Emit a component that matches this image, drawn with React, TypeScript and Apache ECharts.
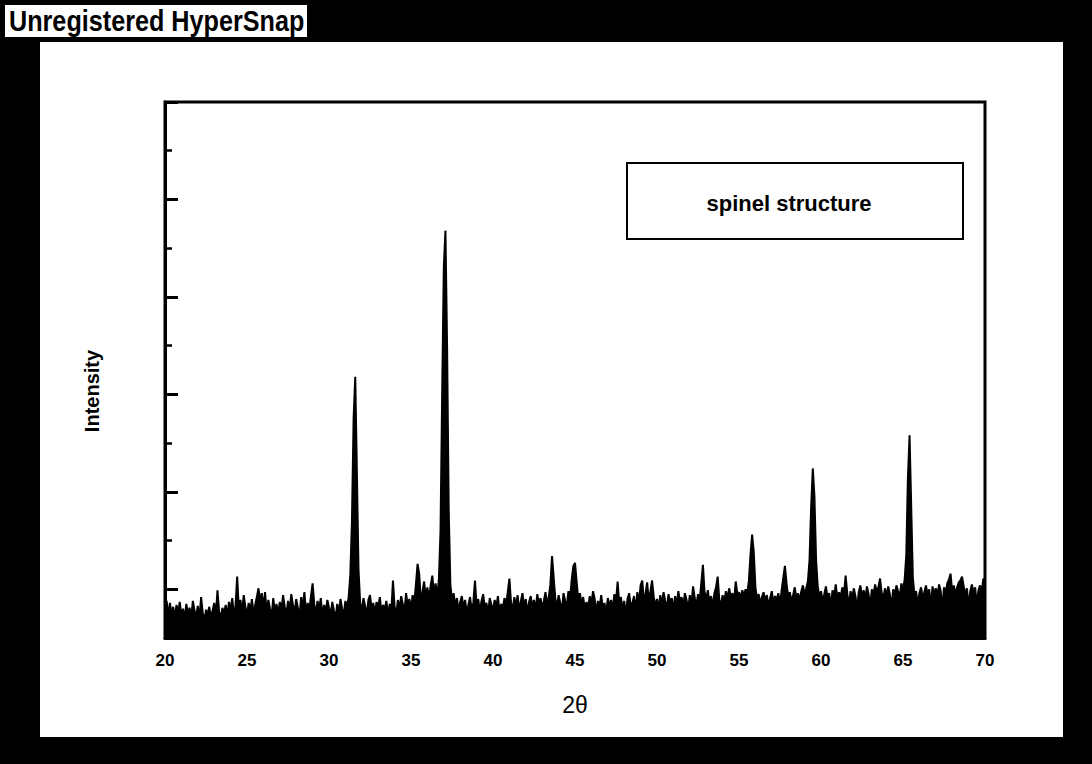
import React, { useEffect, useRef } from "react";
import * as echarts from "echarts";

// 2θ scan: start, step (degrees)
const scanStart = 20.0;
const scanStep = 0.1;

// Intensity, one value per 0.1° from 20.0° to 70.0°
const intensity20 = [
  -22, -12, -28, -14, -26, -18, -30, -16, -24, -13,
  -27, -20, -31, -15, -25, -19, -29, -12, -22, -27,
  -17, -30, -8, -24, -33, -21, -26, -18, -29, -22,
  -14, -27, -1, -23, -30, -19, -25, -16, -28, -13,
  -21, -9, -26, -17, 13, -20, -11, -24, -6, -18,
];
const intensity25 = [
  -27, -14, -22, -10, -25, -16, -8, 1, -12, -4,
  -19, -3, -24, -11, -20, -28, -9, -23, -15, -26,
  -13, -21, -6, -18, -27, -12, -22, -5, -16, -24,
  -10, -19, -29, -8, -17, -3, -25, -14, -21, -7,
  6, -15, -26, -12, -20, -9, -28, -16, -23, -11,
];
const intensity30 = [
  -19, -27, -13, -22, -30, -15, -24, -10, -20, -26,
  -12, -18, -8, 15, 70, 175, 218, 120, 20, -14,
  -22, -9, -17, -27, -11, -6, -20, -14, -25, -13,
  -19, -8, -24, -16, -21, -12, -28, -15, -23, 9,
  -18, -26, -11, -20, -7, -15, -24, -4, -17, -10,
];
const intensity35 = [
  -21, -6, -14, 5, 26, 16, -12, -3, 8, -9,
  2, -11, 4, 14, -5, 6, -8, 10, 60, 200,
  330, 368, 250, 80, 5, -12, -4, -18, -9, -22,
  -13, -7, -19, -11, -25, -16, -8, -21, -14, 9,
  -17, -10, -23, -12, -5, -19, -14, -26, -9, -16,
];
const intensity40 = [
  -22, -11, -18, -7, -24, -15, -20, -9, -16, -3,
  11, -14, -21, -8, -17, -6, -23, -12, -4, -19,
  -10, -25, -13, -7, -18, -11, -22, -5, -15, -9,
  -20, -12, -3, -16, -8, 5, 34, 12, -10, -18,
  -6, -14, -21, -4, -12, -17, -2, -9, 10, 24,
];
const intensity45 = [
  27, 8, -11, -4, -16, -8, -21, -13, -19, -7,
  -15, -2, -10, -24, -12, -18, -6, -20, -14, -26,
  -9, -17, -11, -22, -5, -13, 8, -16, -8, -21,
  -12, -27, -10, -4, -18, -14, -7, -23, -3, -15,
  4, 9, -11, -5, 7, -13, -2, 9, -8, -17,
];
const intensity50 = [
  -10, -20, -6, -15, -3, -12, -19, -5, -14, -9,
  -22, -7, -16, -2, -13, -8, -18, -4, -11, -21,
  -6, -15, 3, -9, -17, -5, -12, 6, 25, -3,
  -10, -1, -14, -7, -19, -4, 2, 13, -11, -16,
  -6, -13, -2, -9, 1, -8, -4, -12, 8, -5,
];
const intensity55 = [
  -3, -9, -1, -7, 0, -4, 8, 35, 56, 38,
  2, -10, -5, -15, -8, -3, -12, -6, -18, -9,
  -2, -14, -7, -11, -4, -16, -1, 12, 24, 6,
  -8, -3, -13, -6, 2, -10, -4, -12, -2, 4,
  -6, 1, 8, 30, 85, 124, 95, 30, 3, -8,
];
const intensity60 = [
  -2, -12, -5, 3, -9, -4, -19, -1, -7, 5,
  -10, -3, -8, 2, -6, 14, -4, -18, -2, -9,
  1, -7, -20, -3, 4, -8, -1, -10, 3, -5,
  -18, 0, -6, 5, -3, 2, 11, -4, -9, 1,
  -7, 3, -5, -19, 0, -6, 4, -2, -8, 6,
];
const intensity65 = [
  -1, 10, 35, 115, 158, 85, 12, -6, -2, -17,
  -4, 2, -8, -3, 4, -6, 0, -18, 3, -5,
  1, -7, 5, -2, -20, 2, -4, 6, 10, 16,
  -3, 4, -6, 2, 7, 9, 13, 3, -5, 1,
  -19, -2, 5, -4, 2, -16, -1, 4, -3, 11,
  8,
];

const xTicks = { min: 20, max: 70, interval: 5 };
const yRange = { min: -50, max: 500 };
const seriesName = "spinel structure";

const allIntensity = [
  ...intensity20, ...intensity25, ...intensity30, ...intensity35, ...intensity40,
  ...intensity45, ...intensity50, ...intensity55, ...intensity60, ...intensity65,
];

const FONT = "'Liberation Sans', Arial, sans-serif";

export default function App() {
  const ref = useRef<HTMLDivElement>(null);

  useEffect(() => {
    if (!ref.current) return;
    const chart = echarts.init(ref.current, undefined, { renderer: "svg" });
    const data = allIntensity.map((v, i) => [
      +(scanStart + i * scanStep).toFixed(1),
      v,
    ]);
    chart.setOption({
      animation: false,
      backgroundColor: "transparent",
      grid: {
        left: 165,
        top: 102,
        right: 107,
        bottom: 126,
        show: true,
        borderColor: "#000",
        borderWidth: 3,
        backgroundColor: "transparent",
      },
      xAxis: {
        type: "value",
        min: xTicks.min,
        max: xTicks.max,
        interval: xTicks.interval,
        name: "2θ",
        nameLocation: "middle",
        nameGap: 55,
        nameTextStyle: {
          fontSize: 23,
          color: "#000",
          fontFamily: FONT,
        },
        axisLine: { onZero: false, lineStyle: { color: "#000", width: 3 } },
        axisTick: { show: false },
        splitLine: { show: false },
        axisLabel: {
          margin: 14,
          color: "#000",
          fontSize: 17,
          fontWeight: "bold",
          fontFamily: FONT,
        },
      },
      yAxis: {
        type: "value",
        min: yRange.min,
        max: yRange.max,
        splitNumber: 5,
        axisLine: { show: true, onZero: false, lineStyle: { color: "#000", width: 3 } },
        axisTick: {
          show: true,
          inside: true,
          length: 13,
          lineStyle: { color: "#000", width: 3 },
        },
        minorTick: {
          show: true,
          splitNumber: 2,
          length: 7,
          lineStyle: { color: "#000", width: 2.5 },
        },
        axisLabel: { show: false },
        splitLine: { show: false },
      },
      series: [
        {
          name: seriesName,
          type: "line",
          data,
          showSymbol: false,
          symbol: "none",
          lineStyle: { color: "#000", width: 2 },
          areaStyle: { color: "#000", opacity: 1, origin: "start" },
          z: 3,
        },
      ],
      graphic: [
        {
          type: "rect",
          shape: { x: 5, y: 5, width: 302, height: 32 },
          style: { fill: "#fff" },
          z: 10,
        },
        {
          type: "text",
          x: 9,
          y: 21,
          scaleX: 0.84,
          style: {
            text: "Unregistered HyperSnap",
            fill: "#000",
            fontSize: 30,
            fontWeight: "bold",
            fontFamily: FONT,
            verticalAlign: "middle",
            align: "left",
          },
          z: 11,
        },
        {
          type: "rect",
          shape: { x: 627, y: 163, width: 336, height: 76 },
          style: { fill: "transparent", stroke: "#000", lineWidth: 2 },
          z: 10,
        },
        {
          type: "text",
          x: 789,
          y: 203,
          style: {
            text: seriesName,
            fill: "#000",
            fontSize: 22,
            fontWeight: "bold",
            fontFamily: FONT,
            align: "center",
            verticalAlign: "middle",
          },
          z: 11,
        },
        {
          type: "text",
          x: 92,
          y: 391,
          rotation: Math.PI / 2,
          style: {
            text: "Intensity",
            fill: "#000",
            fontSize: 20,
            fontWeight: "bold",
            fontFamily: FONT,
            align: "center",
            verticalAlign: "middle",
          },
          z: 11,
        },
      ],
    });
    return () => chart.dispose();
  }, []);

  return (
    <div
      style={{
        position: "absolute",
        left: 0,
        top: 0,
        width: 1092,
        height: 764,
        background: "#000",
        overflow: "hidden",
      }}
    >
      <div
        style={{
          position: "absolute",
          left: 40,
          top: 42,
          width: 1023,
          height: 695,
          background: "#fff",
        }}
      />
      <div
        ref={ref}
        style={{ position: "absolute", left: 0, top: 0, width: 1092, height: 764 }}
      />
    </div>
  );
}
